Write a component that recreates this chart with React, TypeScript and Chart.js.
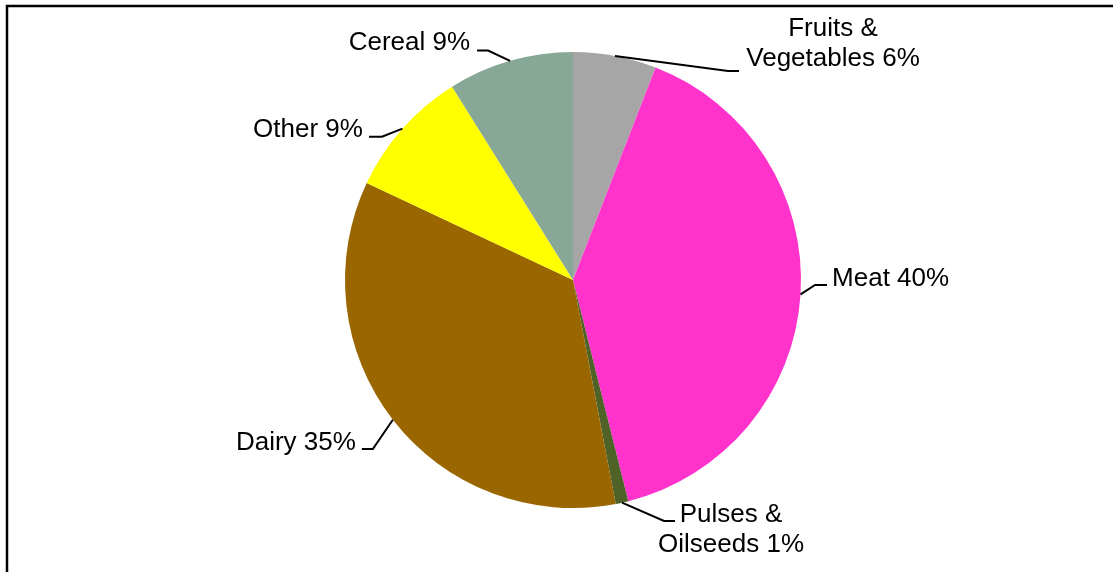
import React, { useEffect, useRef } from "react";
import { Chart, registerables } from "chart.js";

Chart.register(...registerables);

// ---- data ----
const categories = ["Fruits & Vegetables", "Meat", "Pulses & Oilseeds", "Dairy", "Other", "Cereal"];
const shares = [5.9, 40.2, 0.9, 35.0, 9.1, 8.9];
const twoLineLabel = [true, false, true, false, false, false];

// ---- styles ----
const colors = ["#A6A6A6", "#FF33CC", "#4F6228", "#996600", "#FFFF00", "#87A896"];
const FONT = '26px "Liberation Sans", Arial, sans-serif';
const LINE_H = 30;
// leader-line / label placement relative to arc anchor
const labelLayout = [
  { ex: 113, ey: 15, h: 11, tx: 94, ty: -35, align: "center" },
  { ex: 14.5, ey: -9.3, h: 12, tx: 5, ty: 0.5, align: "left" },
  { ex: 42, ey: 18.3, h: 11, tx: 56, ty: 1, align: "center" },
  { ex: -20, ey: 29.2, h: -11, tx: -6, ty: 1, align: "right" },
  { ex: -20.5, ey: 8, h: -13, tx: -6, ty: 0, align: "right" },
  { ex: -22, ey: -10.3, h: -11, tx: -7, ty: -1, align: "right" },
];

const labelPlugin = {
  id: "leaderLabels",
  afterDraw(chart: any) {
    const ctx = chart.ctx;
    const meta = chart.getDatasetMeta(0);
    ctx.save();
    // frame
    ctx.strokeStyle = "#000";
    ctx.lineWidth = 2.5;
    ctx.strokeRect(7, 6, 3000, 3000);

    ctx.font = FONT;
    ctx.fillStyle = "#000";
    ctx.textBaseline = "alphabetic";
    meta.data.forEach((arc: any, i: number) => {
      const p = arc.getProps(["x", "y", "startAngle", "endAngle", "outerRadius"], true);
      const mid = (p.startAngle + p.endAngle) / 2;
      const ax = p.x + Math.cos(mid) * p.outerRadius;
      const ay = p.y + Math.sin(mid) * p.outerRadius;
      const L = labelLayout[i];
      const exx = ax + L.ex;
      const eyy = ay + L.ey;
      const hx = exx + L.h;
      ctx.strokeStyle = "#000";
      ctx.lineWidth = 2;
      ctx.beginPath();
      ctx.moveTo(ax, ay);
      ctx.lineTo(exx, eyy);
      ctx.lineTo(hx, eyy);
      ctx.stroke();

      const pct = Math.round(shares[i]) + "%";
      let lines: string[];
      if (twoLineLabel[i]) {
        const parts = categories[i].split(" & ");
        lines = [parts[0] + " &", parts[1] + " " + pct];
      } else {
        lines = [categories[i] + " " + pct];
      }
      ctx.textAlign = L.align;
      lines.forEach((t, k) => {
        ctx.fillText(t, hx + L.tx, eyy + L.ty + k * LINE_H);
      });
    });
    ctx.restore();
  },
};

export default function App() {
  const ref = useRef<HTMLCanvasElement>(null);
  useEffect(() => {
    if (!ref.current) return;
    const chart = new Chart(ref.current, {
      type: "pie",
      data: {
        labels: categories,
        datasets: [
          {
            data: shares,
            backgroundColor: colors,
            borderWidth: 0,
          },
        ],
      },
      options: {
        responsive: false,
        animation: false,
        layout: { padding: { left: 33, right: 0, top: 52, bottom: 64 } },
        plugins: {
          legend: { display: false },
          tooltip: { enabled: false },
        },
      },
      plugins: [labelPlugin],
    });
    return () => chart.destroy();
  }, []);
  return (
    <div style={{ position: "absolute", left: 0, top: 0, width: 1113, height: 572, background: "#fff", overflow: "hidden" }}>
      <canvas ref={ref} width={1113} height={572} style={{ display: "block" }} />
    </div>
  );
}
